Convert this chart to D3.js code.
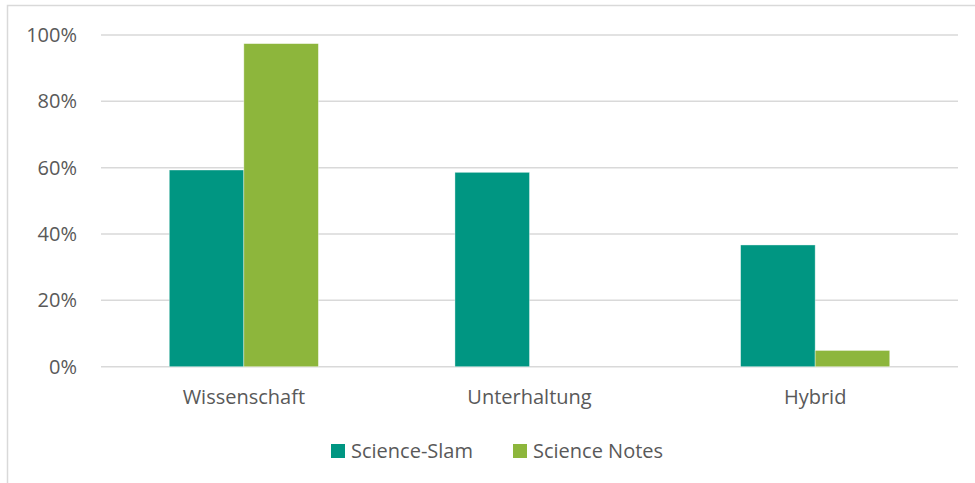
<!DOCTYPE html>
<html><head><meta charset="utf-8">
<script src="https://cdn.jsdelivr.net/npm/d3@7"></script>
<style>
html,body{margin:0;padding:0;background:#fff;}
svg{display:block;font-family:"Open Sans", sans-serif;}
</style></head>
<body>
<svg id="chart" width="975" height="483"></svg>
<script>
const categories = ["Wissenschaft", "Unterhaltung", "Hybrid"];
const seriesNames = ["Science-Slam", "Science Notes"];
const scienceSlam = [0.593, 0.586, 0.367];
const scienceNotes = [0.974, 0, 0.049];
const yTicks = [0, 0.2, 0.4, 0.6, 0.8, 1.0];
const colors = ["#009682", "#8DB63C"];

const FONT = "'Open Sans', sans-serif";
const FS = "20px";

const svg = d3.select("#chart");
const W = 975, H = 483;
const plot = {left: 101, right: 958, top: 35, bottom: 366.7};

// chart border
svg.append("path")
  .attr("d", `M7.5,${H} L7.5,5.5 L${W},5.5`)
  .attr("fill", "none").attr("stroke", "#D9D9D9").attr("stroke-width", 1.5);

const y = d3.scaleLinear().domain([0, 1]).range([plot.bottom, plot.top]);
const x0 = d3.scaleBand().domain(categories).range([plot.left, plot.right])
  .paddingInner(0.478).paddingOuter(0.239);
const x1 = d3.scaleBand().domain(seriesNames).range([0, x0.bandwidth()]);

// gridlines
svg.append("g").selectAll("line").data(yTicks).join("line")
  .attr("x1", plot.left).attr("x2", plot.right)
  .attr("y1", d => y(d)).attr("y2", d => y(d))
  .attr("stroke", "#D9D9D9").attr("stroke-width", 1.5);

// y axis labels
const yAxis = d3.axisLeft(y).tickValues(yTicks).tickFormat(d3.format(".0%")).tickSize(0).tickPadding(0);
const ya = svg.append("g").attr("transform", "translate(77,0)").call(yAxis);
ya.select(".domain").remove();
ya.selectAll("text").attr("fill", "#595959").style("font-size", FS)
  .style("font-family", FONT);

// bars
const data = categories.map((c, i) => ({cat: c, vals: [scienceSlam[i], scienceNotes[i]]}));
const groups = svg.append("g").selectAll("g").data(data).join("g")
  .attr("transform", d => `translate(${x0(d.cat)},0)`);
groups.selectAll("rect").data(d => d.vals.map((v, j) => ({v, s: seriesNames[j], j})))
  .join("rect")
  .attr("x", d => x1(d.s))
  .attr("width", x1.bandwidth())
  .attr("y", d => y(d.v))
  .attr("height", d => y(0) - y(d.v))
  .attr("fill", d => colors[d.j])
  .attr("stroke", "#ffffff").attr("stroke-opacity", 0.5).attr("stroke-width", 0.75);

// x axis labels
const xAxis = d3.axisBottom(x0).tickSize(0).tickPadding(0);
const xa = svg.append("g").attr("transform", `translate(0,${plot.bottom + 23})`).call(xAxis);
xa.select(".domain").remove();
xa.selectAll("text").attr("fill", "#595959").style("font-size", FS)
  .attr("dy", "0.71em")
  .style("font-family", FONT);

// legend
const legendItems = [{name: seriesNames[0], x: 331, c: colors[0]}, {name: seriesNames[1], x: 513, c: colors[1]}];
const lg = svg.append("g").selectAll("g").data(legendItems).join("g")
  .attr("transform", d => `translate(${d.x},444)`);
lg.append("rect").attr("width", 14).attr("height", 14).attr("fill", d => d.c);
lg.append("text").attr("x", 20).attr("y", 7).attr("dy", "0.35em")
  .attr("fill", "#595959").style("font-size", FS).style("font-family", FONT).text(d => d.name);
</script>
</body></html>
